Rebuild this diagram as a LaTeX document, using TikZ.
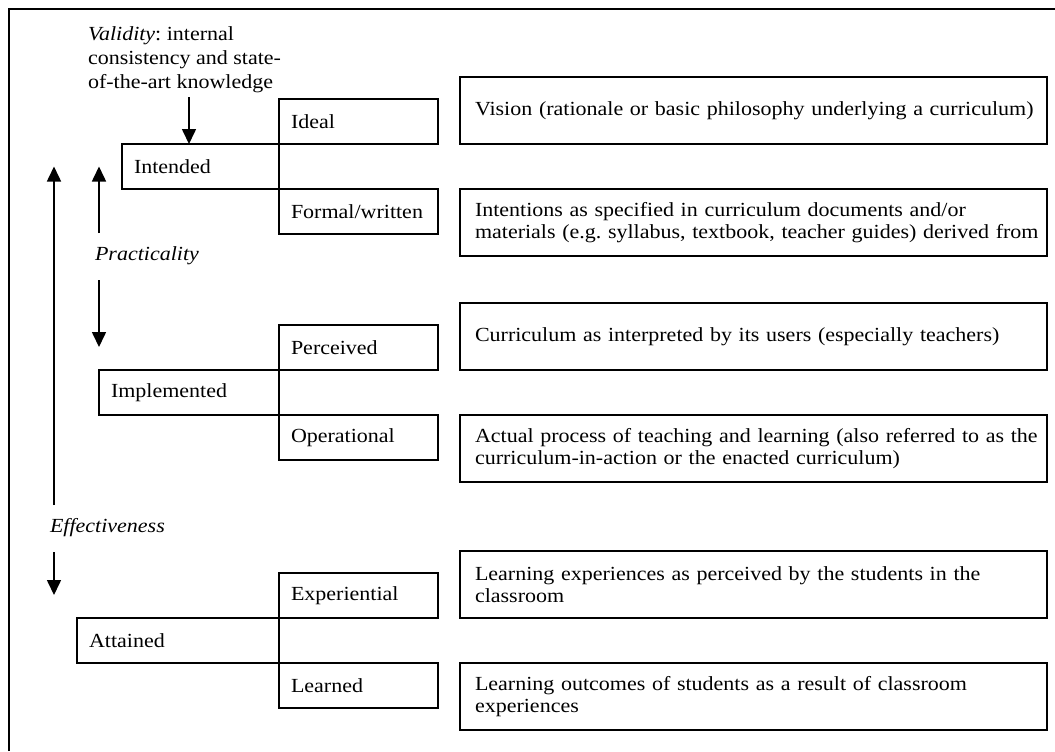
\documentclass[tikz,border=0pt]{standalone}
\usepackage{fontspec}
\setmainfont[FakeStretch=1.1]{Liberation Serif}
\usepackage{tikz}
\usetikzlibrary{arrows.meta,positioning}
\frenchspacing

\begin{document}
\begin{tikzpicture}[% pixel grid of the scan, y runs downwards
		x=0.5pt,y=-0.5pt,
		every node/.style={
			font=\fontsize{10}{11}\selectfont,
			align=left,		% use this so that the "\\" for line break works
			outer sep=0pt		% boxes of one level touch each other
		},
		level/.style={rectangle,draw=black,line width=0.8pt,inner xsep=6pt,minimum height=22.5pt},
		sublevel/.style={level,text width=67.5pt},
		note/.style={rectangle,draw=black,line width=0.8pt,inner xsep=7.5pt,text width=278.5pt,minimum height=33.5pt},
		arr/.style={line width=0.8pt,-{Triangle[width=7pt,length=7.5pt]}}
	]
	\useasboundingbox (0,0) rectangle (1055,751);
	\draw[line width=0.8pt] (9,751) |- (1055,9);

	% intended
	\node[sublevel,anchor=north west](Ideal) at (279,99){Ideal};
	\node[level,text width=66.5pt,anchor=north east](Intended) at (Ideal.south west){Intended};
	\node[sublevel,anchor=north west](Formal) at (Intended.south east){Formal/written};
	\node[note](Vision)[right=11pt of Ideal.south east,anchor=south west]{\mbox{Vision (rationale or basic philosophy underlying a curriculum)}};
	\node[note](Intentions)[right=11pt of Formal.north east,anchor=north west]{\mbox{Intentions as specified in curriculum documents and/or}\\ \mbox{materials (e.g. syllabus, textbook, teacher guides) derived from}};

	% implemented
	\node[sublevel,anchor=north west](Perceived) at (279,325){Perceived};
	\node[level,text width=78pt,anchor=north east](Implemented) at (Perceived.south west){Implemented};
	\node[sublevel,anchor=north west](Operational) at (Implemented.south east){Operational};
	\node[note](Users)[right=11pt of Perceived.south east,anchor=south west]{\mbox{Curriculum as interpreted by its users (especially teachers)}};
	\node[note](Process)[right=11pt of Operational.north east,anchor=north west]{\mbox{Actual process of teaching and learning (also referred to as the}\\ \mbox{curriculum-in-action or the enacted curriculum)}};

	% attained
	\node[sublevel,anchor=north west](Experiential) at (279,573){Experiential};
	\node[level,text width=89pt,anchor=north east](Attained) at (Experiential.south west){Attained};
	\node[sublevel,anchor=north west](Learned) at (Attained.south east){Learned};
	\node[note](Experiences)[right=11pt of Experiential.south east,anchor=south west]{\mbox{Learning experiences as perceived by the students in the}\\ \mbox{classroom}};
	\node[note](Outcomes)[right=11pt of Learned.north east,anchor=north west]{\mbox{Learning outcomes of students as a result of classroom}\\ \mbox{experiences}};

	% criteria
	\node[anchor=north west,inner sep=0pt,font=\fontsize{10}{12}\selectfont](Validity) at (88,27){\textit{Validity}: internal\\ consistency and state-\\ of-the-art knowledge};
	\node[anchor=west,inner sep=0pt](Practicality) at (95,256){\textit{Practicality}};
	\node[anchor=west,inner sep=0pt](Effectiveness) at (50,528){\textit{Effectiveness}};

	\coordinate (vStart) at (189,97);
	\coordinate (pUp) at (99,233);
	\coordinate (pDown) at (99,280);
	\coordinate (eUp) at (54,505);
	\coordinate (eDown) at (54,552);
	\draw[arr] (vStart) -- (vStart |- Intended.north);
	\draw[arr] (pUp) -- (pUp |- Intended.west);
	\draw[arr] (pDown) -- ++(0,67);
	\draw[arr] (eUp) -- (eUp |- Intended.west);
	\draw[arr] (eDown) -- ++(0,43);
\end{tikzpicture}
\end{document}
